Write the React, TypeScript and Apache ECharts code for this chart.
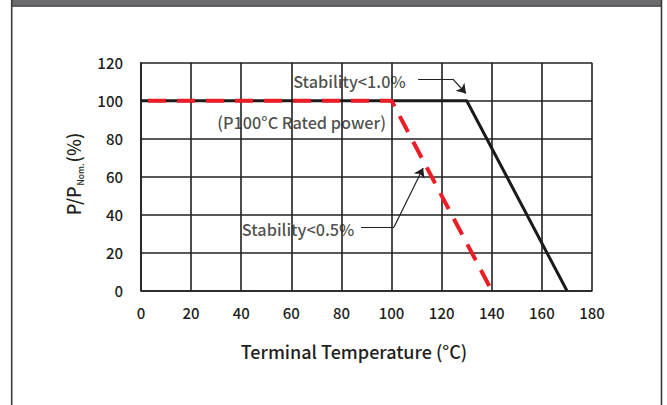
import React, { useEffect, useRef } from "react";
import * as echarts from "echarts";

const xTicks = [0, 20, 40, 60, 80, 100, 120, 140, 160, 180];
const yTicks = [0, 20, 40, 60, 80, 100, 120];
const blackTemps = [0, 130, 170];
const blackPower = [100, 100, 0];
const redTemps = [0, 100, 140];
const redPower = [100, 100, 0];
const noteTexts = ["Stability<1.0%", "(P100°C Rated power)", "Stability<0.5%"];
const notePos = [
  [83.2, 110.5],
  [64.1, 88.9],
  [62.7, 32.5],
];
const arrow1 = [
  [110.6, 111.4],
  [124.5, 111.4],
  [129.7, 103.8],
];
const arrow2 = [
  [87.8, 33.5],
  [101.0, 33.5],
  [112.6, 64.6],
];
const xName = "Terminal Temperature (°C)";

const FONT = "'Noto Sans CJK SC', 'Noto Sans', sans-serif";
const INK = "#231f20";
const W = 500;

export default function App() {
  const ref = useRef<HTMLDivElement>(null);
  useEffect(() => {
    if (!ref.current) return;
    const chart = echarts.init(ref.current, undefined, { renderer: "svg" });
    const gridLine = { show: true, lineStyle: { color: INK, width: 1.6 } };
    const arrows = [arrow1, arrow2];
    chart.setOption({
      animation: false,
      backgroundColor: "#ffffff",
      grid: { left: 141, right: 75, top: 62.7, bottom: 114.3 },
      xAxis: {
        type: "value",
        min: xTicks[0],
        max: xTicks[xTicks.length - 1],
        interval: 20,
        axisLine: { show: true, lineStyle: { color: INK, width: 1.6 } },
        axisTick: { show: false },
        splitLine: gridLine,
        axisLabel: { color: INK, fontSize: 15, fontFamily: FONT, fontWeight: W, margin: 14 },
        name: xName,
        nameLocation: "middle",
        nameGap: 51,
        nameTextStyle: {
          color: INK,
          fontSize: 18,
          fontFamily: FONT,
          fontWeight: W,
          padding: [0, 25, 0, 0],
        },
      },
      yAxis: {
        type: "value",
        min: yTicks[0],
        max: yTicks[yTicks.length - 1],
        interval: 20,
        axisLine: { show: true, lineStyle: { color: INK, width: 1.6 } },
        axisTick: { show: false },
        splitLine: gridLine,
        axisLabel: { color: INK, fontSize: 15, fontFamily: FONT, fontWeight: W, margin: 18 },
      },
      graphic: [
        {
          type: "rect",
          shape: { x: 11, y: 0, width: 651, height: 6.5 },
          style: { fill: "#6b6b6d" },
          silent: true,
        },
        {
          type: "line",
          shape: { x1: 11, y1: 6.2, x2: 662, y2: 6.2 },
          style: { stroke: "#3f3f41", lineWidth: 1 },
        },
        {
          type: "line",
          shape: { x1: 11.7, y1: 0, x2: 11.7, y2: 405 },
          style: { stroke: "#3a3a3c", lineWidth: 1.6 },
        },
        {
          type: "line",
          shape: { x1: 661.5, y1: 0, x2: 661.5, y2: 405 },
          style: { stroke: "#3a3a3c", lineWidth: 1.6 },
        },
        {
          type: "text",
          x: 73,
          y: 174,
          rotation: Math.PI / 2,
          style: {
            text: "{a|P/P}{b|Nom.}{a|(%)}",
            align: "center",
            verticalAlign: "middle",
            fill: INK,
            rich: {
              a: { fontSize: 18, fontFamily: FONT, fontWeight: W, fill: INK, lineHeight: 22, verticalAlign: "middle" },
              b: { fontSize: 8.5, fontFamily: FONT, fontWeight: W, fill: INK, lineHeight: 22, verticalAlign: "bottom", padding: [8, 1, 0, 1] },
            },
          },
        },
      ],
      series: [
        {
          type: "line",
          data: blackTemps.map((t, i) => [t, blackPower[i]]),
          symbol: "none",
          lineStyle: { color: "#1a1a1a", width: 3 },
          z: 3,
        },
        {
          type: "line",
          data: redTemps.map((t, i) => [t, redPower[i]]),
          symbol: "none",
          lineStyle: { color: "#ee1c25", width: 4, type: [18, 11], dashOffset: 21.6 },
          z: 4,
        },
        {
          type: "lines",
          coordinateSystem: "cartesian2d",
          symbol: ["none", "none"],
          lineStyle: { color: INK, width: 1.2, opacity: 1 },
          data: arrows.map((a) => ({ coords: [a[0], a[1]] })),
          z: 5,
        },
        {
          type: "lines",
          coordinateSystem: "cartesian2d",
          symbol: ["none", "arrow"],
          symbolSize: 9,
          lineStyle: { color: INK, width: 1.2, opacity: 1 },
          data: arrows.map((a) => ({ coords: [a[1], a[2]] })),
          z: 5,
        },
        {
          type: "scatter",
          symbolSize: 0,
          data: noteTexts.map((n, i) => ({ name: n, value: notePos[i] })),
          label: {
            show: true,
            position: "inside",
            formatter: (p: any) => p.name,
            color: INK,
            fontSize: 16.3,
            fontFamily: FONT,
            fontWeight: W,
          },
          z: 6,
        },
      ],
    });
    return () => chart.dispose();
  }, []);
  return (
    <div
      ref={ref}
      style={{ position: "fixed", left: 0, top: 0, width: 667, height: 405 }}
    />
  );
}
